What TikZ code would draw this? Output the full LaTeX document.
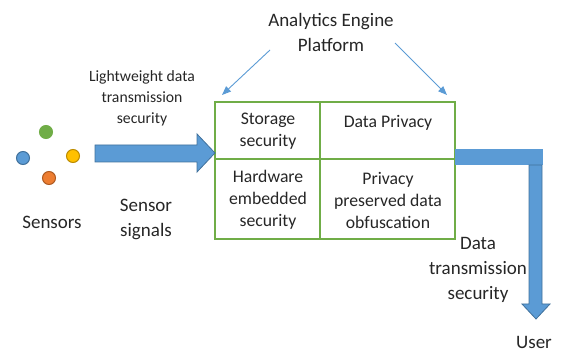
\documentclass[tikz,border=0pt]{standalone}
\usepackage{fontspec}
\setmainfont{Carlito}
\usetikzlibrary{arrows.meta}
\definecolor{cblue}{HTML}{5B9BD5}
\definecolor{cblueD}{HTML}{41719C}
\definecolor{cgreen}{HTML}{70AD47}
\definecolor{cgreenD}{HTML}{507E32}
\definecolor{corange}{HTML}{ED7D31}
\definecolor{corangeD}{HTML}{AE5A21}
\definecolor{cyellow}{HTML}{FFC000}
\definecolor{cyellowD}{HTML}{BC8C00}
\definecolor{ctext}{HTML}{262626}
\tikzset{
  cellline/.style={draw=cgreen, line width=1.5pt},
  boxtxt/.style={align=center, text=ctext, font=\fontsize{17.7}{22}\selectfont, inner sep=0pt},
  bigtxt/.style={align=center, text=ctext, font=\fontsize{19}{25}\selectfont, inner sep=0pt},
  smalltxt/.style={align=center, text=ctext, font=\fontsize{15.7}{21}\selectfont, inner sep=0pt},
  thinarrow/.style={draw=cblue, line width=0.9pt, -{Triangle[length=9pt,width=7pt]}},
  blockarrow/.style={fill=cblue, draw=cblueD, line width=0.8pt},
  dot/.style={circle, minimum size=13pt, inner sep=0pt, line width=1pt}
}
\begin{document}
\begin{tikzpicture}[x=1pt,y=-1pt]
\useasboundingbox (0,0) rectangle (562,352);
% grid box
\coordinate (bTL) at (215,102);
\coordinate (bBR) at (455,239);
\draw[cellline] (bTL) rectangle (bBR);
\draw[cellline] (320,102) -- (320,239);
\draw[cellline] (215,159) -- (455,159);
\node[boxtxt] (storage) at (268,131.5) {Storage\\security};
\node[boxtxt] (privacy) at (388,123) {Data Privacy};
\node[boxtxt] (hardware) at (268,200) {Hardware\\embedded\\security};
\node[boxtxt] (obfus) at (388,200) {Privacy\\preserved data\\obfuscation};
% title and arrows
\node[bigtxt] (title) at (331,32) {Analytics Engine\\Platform};
\coordinate (tl) at (270,50);
\coordinate (tr) at (395,43);
\coordinate (hl) at (222,95);
\coordinate (hr) at (447,95);
\draw[thinarrow] (tl) -- (hl);
\draw[thinarrow] (tr) -- (hr);
% sensors
\node[dot, fill=cgreen, draw=cgreen, drop shadow/.try] (g) at (46,132) {};
\node[dot, fill=cblue, draw=cblueD] (b) at (23,158) {};
\node[dot, fill=cyellow, draw=cyellowD] (y) at (73,156) {};
\node[dot, fill=corange, draw=corangeD] (o) at (49,178) {};
\node[bigtxt] (sensors) at (52,222) {Sensors};
\node[bigtxt] (signals) at (146,219) {Sensor\\signals};
\node[smalltxt] (light) at (142,98) {Lightweight data\\transmission\\security};
% big input arrow
\draw[blockarrow] (95,145) -- (197,145) -- (197,134) -- (215,153) -- (197,172) -- (197,162) -- (95,162) -- cycle;
% output
\fill[cblue] (455,149) rectangle (543,165);
\draw[blockarrow] (529,165) -- (542,165) -- (542,304) -- (550,304) -- (536,319) -- (522,304) -- (529,304) -- cycle;
\node[bigtxt] (dts) at (478,270) {Data\\transmission\\security};
\node[bigtxt] (user) at (534,342) {User};
\end{tikzpicture}
\end{document}
